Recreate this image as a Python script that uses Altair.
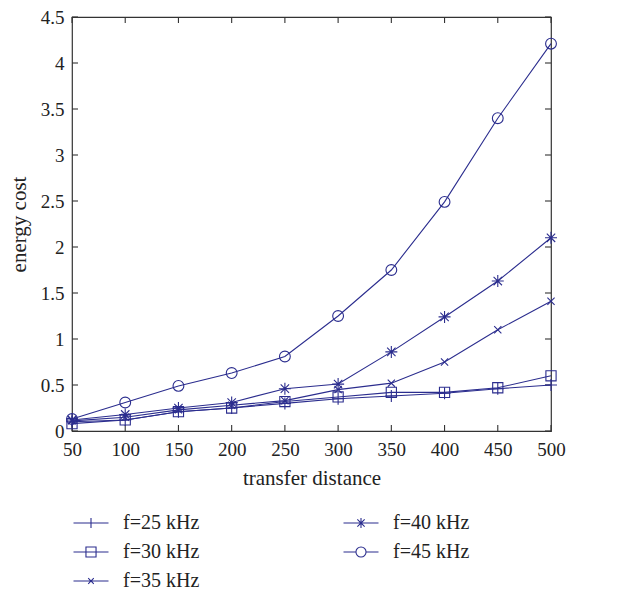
import altair as alt
import pandas as pd

distance = [50, 100, 150, 200, 250, 300, 350, 400, 450, 500]
f25 = [0.10, 0.12, 0.21, 0.25, 0.30, 0.35, 0.38, 0.41, 0.46, 0.50]
f30 = [0.08, 0.12, 0.21, 0.25, 0.32, 0.37, 0.42, 0.42, 0.47, 0.60]
f35 = [0.11, 0.15, 0.23, 0.28, 0.33, 0.45, 0.52, 0.75, 1.10, 1.41]
f40 = [0.12, 0.18, 0.25, 0.31, 0.46, 0.51, 0.86, 1.24, 1.63, 2.10]
f45 = [0.13, 0.31, 0.49, 0.63, 0.81, 1.25, 1.75, 2.49, 3.40, 4.21]
series_names = ["f=25 kHz", "f=30 kHz", "f=35 kHz", "f=40 kHz", "f=45 kHz"]
x_ticks = [50, 100, 150, 200, 250, 300, 350, 400, 450, 500]
y_ticks = [0, 0.5, 1, 1.5, 2, 2.5, 3, 3.5, 4, 4.5]

W, H = 479, 414
COLOR = "#2b2d8e"
FONT = "Liberation Serif"
TICK = 6

rows = []
for name, vals in zip(series_names, [f25, f30, f35, f40, f45]):
    for d, v in zip(distance, vals):
        rows.append({"distance": d, "cost": v, "series": name})
df = pd.DataFrame(rows)

marker_paths = [
    "M-1,0H1M0,-1V1",
    "M-0.85,-0.85H0.85V0.85H-0.85Z",
    "M-0.6,-0.6L0.6,0.6M-0.6,0.6L0.6,-0.6",
    "M-1,0H1M0,-1V1M-0.7,-0.7L0.7,0.7M-0.7,0.7L0.7,-0.7",
    "M0.9,0A0.9,0.9 0 1,1 -0.9,0A0.9,0.9 0 1,1 0.9,0Z",
]
s = 0.36
legend_paths = [
    f"M-1.25,0H1.25M0,-{s}V{s}",
    f"M-1.25,0H-{s}M{s},0H1.25M-{s},-{s}H{s}V{s}H-{s}Z M-{s},0H{s}",
    f"M-1.25,0H1.25M-0.2,-0.2L0.2,0.2M-0.2,0.2L0.2,-0.2",
    f"M-1.25,0H1.25M0,-{s}V{s}M-0.26,-0.26L0.26,0.26M-0.26,0.26L0.26,-0.26",
    f"M-1.25,0H-{s}M{s},0H1.25M{s},0A{s},{s} 0 1,1 -{s},0A{s},{s} 0 1,1 {s},0Z",
]
legend_order = ["f=25 kHz", "f=40 kHz", "f=30 kHz", "f=45 kHz", "f=35 kHz"]
legend_range = [legend_paths[series_names.index(n)] for n in legend_order]

xs = alt.Scale(domain=[50, 500], nice=False, zero=False)
ys = alt.Scale(domain=[0, 4.5], nice=False)

base = alt.Chart(df)

lines = base.mark_line(color=COLOR, strokeWidth=1.1).encode(
    x=alt.X("distance:Q", scale=xs,
            axis=alt.Axis(values=x_ticks, title="transfer distance", ticks=False, labelFlush=False,
                          domain=False, grid=False, labelPadding=9, titlePadding=8)),
    y=alt.Y("cost:Q", scale=ys,
            axis=alt.Axis(values=y_ticks, format="~g", title="energy cost", ticks=False, labelFlush=False,
                          domain=False, grid=False, labelPadding=8, titlePadding=11)),
    detail="series:N",
)

points = base.mark_point(color=COLOR, filled=False, strokeWidth=1.1, size=144, opacity=1).encode(
    x=alt.X("distance:Q", scale=xs),
    y=alt.Y("cost:Q", scale=ys),
    shape=alt.Shape("series:N", scale=alt.Scale(domain=series_names, range=marker_paths), legend=None),
)

legend_layer = base.transform_filter("false").mark_point(
    color=COLOR, filled=False, strokeWidth=1.1, opacity=1
).encode(
    x=alt.X("distance:Q", scale=xs),
    y=alt.Y("cost:Q", scale=ys),
    shape=alt.Shape("series:N", scale=alt.Scale(domain=legend_order, range=legend_range),
                    legend=alt.Legend(title=None, orient="none", legendX=4, legendY=491,
                                      columns=2, direction="horizontal", columnPadding=141,
                                      rowPadding=4, symbolSize=784, labelOffset=17,
                                      labelFont=FONT, labelFontSize=20, labelColor="#222",
                                      symbolStrokeColor=COLOR, symbolStrokeWidth=1.1,
                                      symbolType="circle")),
)

xt = pd.DataFrame({"v": x_ticks})
yt = pd.DataFrame({"v": y_ticks})
tick_style = dict(color="#333", strokeWidth=1.1)
xb = alt.Chart(xt).mark_rule(**tick_style).encode(x=alt.X("v:Q", scale=xs), y=alt.value(H), y2=alt.value(H - TICK))
xtp = alt.Chart(xt).mark_rule(**tick_style).encode(x=alt.X("v:Q", scale=xs), y=alt.value(0), y2=alt.value(TICK))
yl = alt.Chart(yt).mark_rule(**tick_style).encode(y=alt.Y("v:Q", scale=ys), x=alt.value(0), x2=alt.value(TICK))
yr = alt.Chart(yt).mark_rule(**tick_style).encode(y=alt.Y("v:Q", scale=ys), x=alt.value(W - TICK), x2=alt.value(W))

chart = alt.layer(xb, xtp, yl, yr, lines, points, legend_layer).resolve_scale(
    shape="independent"
).properties(width=W, height=H, padding={"left": 0, "top": 0, "right": 10, "bottom": 0}).configure_view(
    stroke="#333", strokeWidth=1.2
).configure_axis(
    labelFont=FONT, labelFontSize=19, labelColor="#222", titleFont=FONT, titleFontSize=21,
    titleFontWeight="normal", titleColor="#222"
)

chart.save("out.html", embed_options={"renderer": "svg", "actions": False})
